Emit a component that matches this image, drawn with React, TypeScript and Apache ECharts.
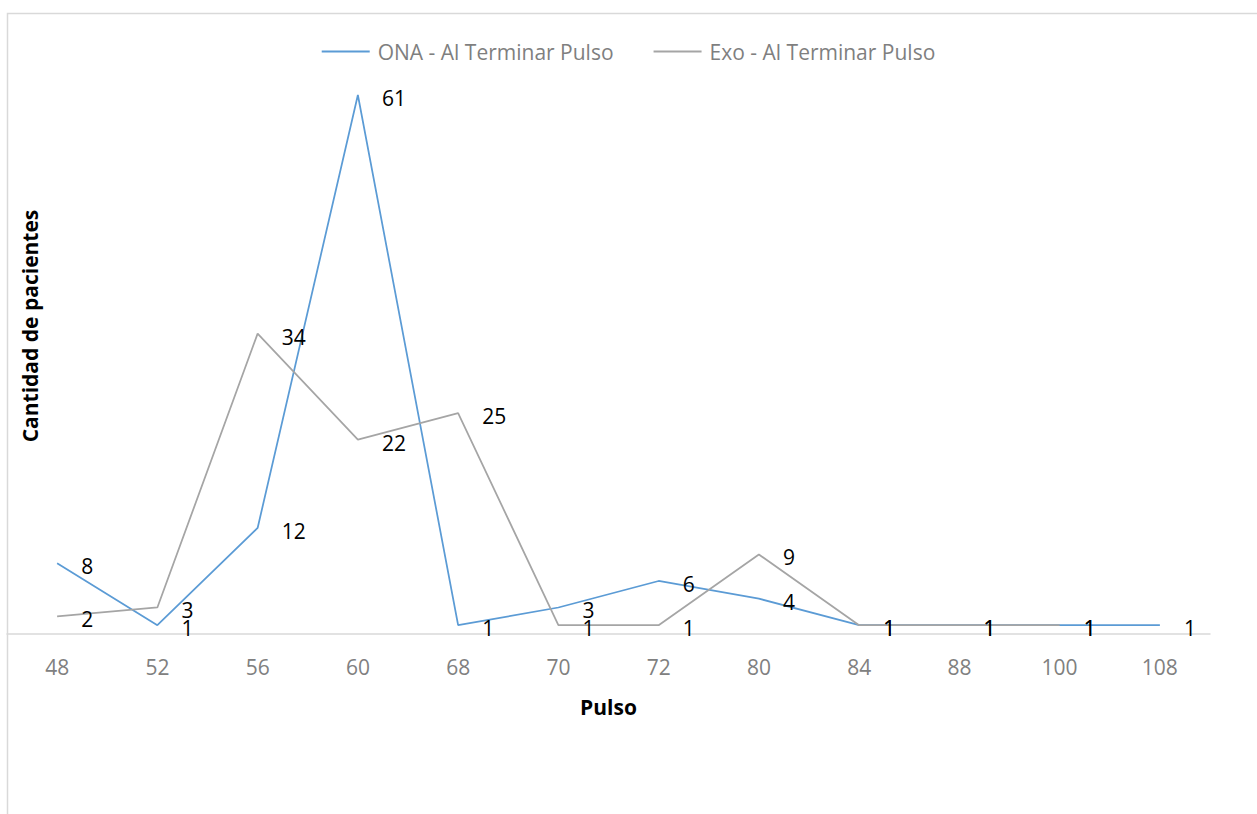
import React, { useEffect, useRef } from "react";
import * as echarts from "echarts";

const categories = ["48", "52", "56", "60", "68", "70", "72", "80", "84", "88", "100", "108"];
const onaValues = [8, 1, 12, 61, 1, 3, 6, 4, 1, 1, 1, 1];
const exoValues: (number | null)[] = [2, 3, 34, 22, 25, 1, 1, 9, 1, 1, 1, null];

const FONT = "Open Sans";

export default function App() {
  const ref = useRef<HTMLDivElement>(null);

  useEffect(() => {
    if (!ref.current) return;
    const chart = echarts.init(ref.current, undefined, { renderer: "svg" });

    const label = {
      show: true,
      position: "right" as const,
      distance: 24,
      color: "#000",
      fontFamily: FONT,
      fontSize: 21,
      offset: [0, 3],
    };

    chart.setOption({
      animation: false,
      backgroundColor: "#fff",
      textStyle: { fontFamily: FONT },
      graphic: [
        {
          type: "rect",
          shape: { x: 7.5, y: 13.5, width: 1400, height: 1000 },
          style: { fill: "none", stroke: "#d9d9d9", lineWidth: 1.5 },
          silent: true,
        },
        {
          type: "text",
          x: 30,
          y: 326,
          rotation: Math.PI / 2,
          style: {
            text: "Cantidad de pacientes",
            fontFamily: FONT,
            fontSize: 21,
            fontWeight: "bold",
            fill: "#000",
            align: "center",
            verticalAlign: "middle",
          },
        },
      ],
      legend: {
        top: 36,
        left: "center",
        icon: "rect",
        itemWidth: 48,
        itemHeight: 2,
        itemGap: 40,
        textStyle: { color: "#7f7f7f", fontSize: 21, fontFamily: FONT, padding: [0, 0, 0, 3] },
        data: ["ONA - Al Terminar Pulso", "Exo - Al Terminar Pulso"],
      },
      grid: { left: 7, right: 47, top: 15.5, bottom: 180 },
      xAxis: {
        type: "category",
        data: categories,
        boundaryGap: true,
        axisLine: { lineStyle: { color: "#d9d9d9", width: 1.5 } },
        axisTick: { show: false },
        axisLabel: { color: "#808080", fontSize: 21, fontFamily: FONT, margin: 22 },
        name: "Pulso",
        nameLocation: "middle",
        nameGap: 62,
        nameTextStyle: { color: "#000", fontSize: 21, fontWeight: "bold", fontFamily: FONT },
      },
      yAxis: {
        type: "value",
        min: 0,
        max: 70,
        show: false,
        splitLine: { show: false },
      },
      series: [
        {
          name: "ONA - Al Terminar Pulso",
          type: "line",
          data: onaValues,
          symbol: "circle",
          symbolSize: 0.01,
          showSymbol: true,
          lineStyle: { color: "#5B9BD5", width: 1.75 },
          itemStyle: { color: "#5B9BD5" },
          label,
        },
        {
          name: "Exo - Al Terminar Pulso",
          type: "line",
          data: exoValues,
          symbol: "circle",
          symbolSize: 0.01,
          showSymbol: true,
          lineStyle: { color: "#A5A5A5", width: 1.75 },
          itemStyle: { color: "#A5A5A5" },
          label,
        },
      ],
    });

    return () => chart.dispose();
  }, []);

  return (
    <div
      ref={ref}
      style={{ position: "fixed", left: 0, top: 0, width: 1257, height: 814 }}
    />
  );
}
